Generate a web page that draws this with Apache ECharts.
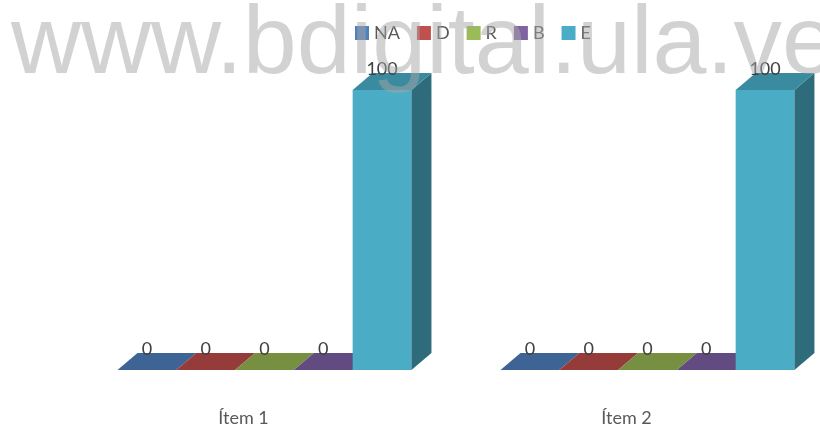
<!DOCTYPE html>
<html>
<head>
<meta charset="utf-8">
<script src="https://cdn.jsdelivr.net/npm/echarts@6/dist/echarts.min.js"></script>
<style>
  html, body { margin: 0; padding: 0; background: #fff; }
  #chart { width: 820px; height: 433px; }
</style>
</head>
<body>
<div id="chart"></div>
<script>
const categories = ['Ítem 1', 'Ítem 2'];
const seriesNames = ['NA', 'D', 'R', 'B', 'E'];
const valuesNA = [0, 0];
const valuesD = [0, 0];
const valuesR = [0, 0];
const valuesB = [0, 0];
const valuesE = [100, 100];

const allValues = [valuesNA, valuesD, valuesR, valuesB, valuesE];
const frontColors = ['#4F81BD', '#C0504D', '#9BBB59', '#8064A2', '#4BACC6'];
const topColors = ['#3E6496', '#953B39', '#778F40', '#624B80', '#3A8B9F'];
const sideColors = ['#2F4C72', '#71302E', '#5A6D31', '#4A3A61', '#2E6C7B'];

const FONT = 'Lato, "Open Sans", sans-serif';
const DX = 20, DY = 17;

const chart = echarts.init(document.getElementById('chart'));

function makeRender(idx) {
  return function (params, api) {
    const cat = api.value(0);
    const val = api.value(1);
    const base = api.coord([cat, 0]);
    const top = api.coord([cat, val]);
    const band = api.size([1, 0])[0];
    const w = band * 0.1535;
    const x0 = base[0] - band * 0.329 + idx * w;
    const x1 = x0 + w;
    const yb = base[1];
    const yt = top[1];
    const children = [];
    if (yb - yt > 0.5) {
      children.push({
        type: 'rect',
        shape: { x: x0, y: yt, width: w, height: yb - yt },
        style: { fill: frontColors[idx] }
      });
      children.push({
        type: 'polygon',
        shape: { points: [[x1, yt], [x1 + DX, yt - DY], [x1 + DX, yb - DY], [x1, yb]] },
        style: { fill: sideColors[idx] }
      });
    }
    children.push({
      type: 'polygon',
      shape: { points: [[x0, yt], [x0 + DX, yt - DY], [x1 + DX, yt - DY], [x1, yt]] },
      style: { fill: topColors[idx] }
    });
    children.push({
      type: 'text',
      x: (x0 + x1) / 2,
      y: yt - 21,
      style: {
        text: String(val),
        fill: '#404040',
        font: '18px ' + FONT,
        textAlign: 'center',
        textVerticalAlign: 'middle'
      }
    });
    return { type: 'group', children: children };
  };
}

const series = seriesNames.map((name, i) => ({
  name: name,
  type: 'custom',
  color: frontColors[i],
  itemStyle: { color: frontColors[i] },
  renderItem: makeRender(i),
  encode: { x: 0, y: 1 },
  data: allValues[i].map((v, c) => [c, v]),
  z: 2 + i
}));

chart.setOption({
  animation: false,
  legend: {
    left: 350,
    top: 19,
    icon: 'rect',
    itemWidth: 14,
    itemHeight: 14,
    itemGap: 17,
    itemStyle: { borderWidth: 0 },
    textStyle: { color: '#595959', fontSize: 18, fontFamily: FONT, padding: [4, 0, 0, 0] },
    data: seriesNames
  },
  grid: { left: 52, right: 2, top: 90, bottom: 63 },
  xAxis: {
    type: 'category',
    data: categories,
    axisLine: { show: false },
    axisTick: { show: false },
    axisLabel: { color: '#595959', fontSize: 18, fontFamily: FONT, margin: 39 }
  },
  yAxis: {
    type: 'value',
    min: 0,
    max: 100,
    show: false
  },
  graphic: [{
    type: 'text',
    left: 11,
    top: -2,
    z: 100,
    silent: true,
    style: {
      text: 'www.bdigital.ula.ve',
      font: '97px "Liberation Sans", Arial, sans-serif',
      fill: 'rgba(166,166,166,0.5)'
    }
  }],
  series: series
});
</script>
</body>
</html>
